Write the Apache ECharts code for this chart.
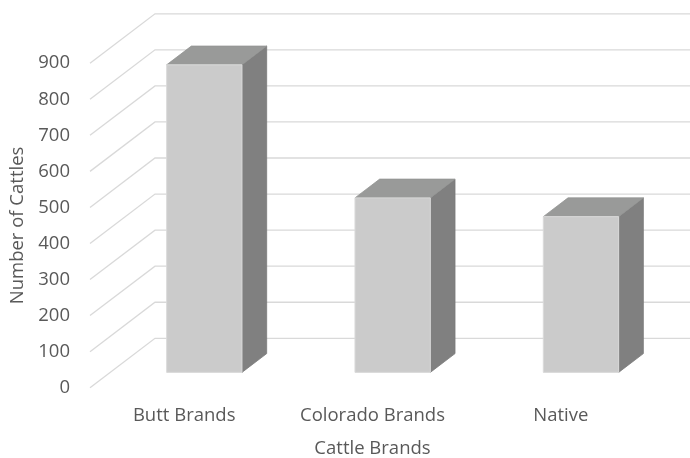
<!DOCTYPE html>
<html>
<head>
<meta charset="utf-8">
<script src="https://cdn.jsdelivr.net/npm/echarts@6/dist/echarts.min.js"></script>
<style>
  html, body { margin: 0; padding: 0; background: #fff; }
  #chart { width: 690px; height: 458px; }
</style>
</head>
<body>
<div id="chart"></div>
<script>
// Cattle counts by brand
const categories = ['Butt Brands', 'Colorado Brands', 'Native'];
const cattleCounts = [853, 484, 432];
const yTicks = [0, 100, 200, 300, 400, 500, 600, 700, 800, 900];

// Oblique depth of the floor (front edge to back wall), in pixels
const DEPTH_X = 65;
const DEPTH_Y = -49.4;
// Column sits in the middle of the depth
const BAR_FRONT = 0.31;
const BAR_DEPTH = 0.38;
const BAR_RATIO = 0.4;

const FONT = 'Open Sans';
const FONT_SIZE = 18.5;
const TEXT_COLOR = '#595959';

const chart = echarts.init(document.getElementById('chart'), null, { renderer: 'canvas' });

function renderWall(params, api) {
  const p = api.coord([0, api.value(1)]);
  const fx = params.coordSys.x;
  const fy = p[1];
  const bx = fx + DEPTH_X;
  const by = fy + DEPTH_Y;
  return {
    type: 'polyline',
    shape: { points: [[fx, fy], [bx, by], [api.getWidth(), by]] },
    style: { stroke: '#d9d9d9', lineWidth: 1.3, fill: null }
  };
}

function renderColumn(params, api) {
  const base = api.coord([api.value(0), 0]);
  const top = api.coord([api.value(0), api.value(1)]);
  const band = api.size([1, 0])[0];
  const w = band * BAR_RATIO;
  const ox = DEPTH_X * BAR_FRONT, oy = DEPTH_Y * BAR_FRONT;
  const dx = DEPTH_X * BAR_DEPTH, dy = DEPTH_Y * BAR_DEPTH;
  const L = base[0] - w / 2 + ox;
  const R = L + w;
  const T = top[1] + oy;
  const B = base[1] + oy;
  return {
    type: 'group',
    children: [
      {
        type: 'polygon',
        shape: { points: [[R, T], [R + dx, T + dy], [R + dx, B + dy], [R, B]] },
        style: { fill: '#808080', stroke: '#7a7a7a', lineWidth: 0.8 }
      },
      {
        type: 'polygon',
        shape: { points: [[L, T], [R, T], [R + dx, T + dy], [L + dx, T + dy]] },
        style: { fill: '#999a99', stroke: '#939493', lineWidth: 0.8 }
      },
      {
        type: 'rect',
        shape: { x: L, y: T, width: w, height: B - T },
        style: { fill: '#cbcbcb', stroke: '#dadada', lineWidth: 1 }
      }
    ]
  };
}

chart.setOption({
  animation: false,
  backgroundColor: '#ffffff',
  grid: { left: 90, top: 63.2, width: 565, height: 324.5, outerBoundsMode: 'none' },
  xAxis: {
    type: 'category',
    data: categories,
    axisLine: { show: false },
    axisTick: { show: false },
    axisLabel: {
      interval: 0, hideOverlap: false, margin: 19,
      fontFamily: FONT, fontSize: FONT_SIZE, color: TEXT_COLOR
    },
    name: 'Cattle Brands',
    nameLocation: 'middle',
    nameGap: 52,
    nameTextStyle: { fontFamily: FONT, fontSize: FONT_SIZE, color: TEXT_COLOR }
  },
  yAxis: {
    type: 'value',
    min: 0,
    max: 900,
    interval: 100,
    axisLine: { show: false },
    axisTick: { show: false },
    splitLine: { show: false },
    axisLabel: {
      margin: 20, fontFamily: FONT, fontSize: FONT_SIZE, color: TEXT_COLOR,
      padding: [5, 0, 0, 0]
    },
    name: 'Number of Cattles',
    nameLocation: 'middle',
    nameRotate: 90,
    nameGap: 62,
    nameTextStyle: { fontFamily: FONT, fontSize: FONT_SIZE, color: TEXT_COLOR }
  },
  series: [
    {
      type: 'custom',
      name: 'wall',
      clip: false,
      silent: true,
      z: 1,
      renderItem: renderWall,
      data: yTicks.map(v => [0, v])
    },
    {
      type: 'custom',
      name: 'Cattles',
      clip: false,
      z: 2,
      renderItem: renderColumn,
      data: cattleCounts.map((v, i) => [i, v])
    }
  ]
});
</script>
</body>
</html>
